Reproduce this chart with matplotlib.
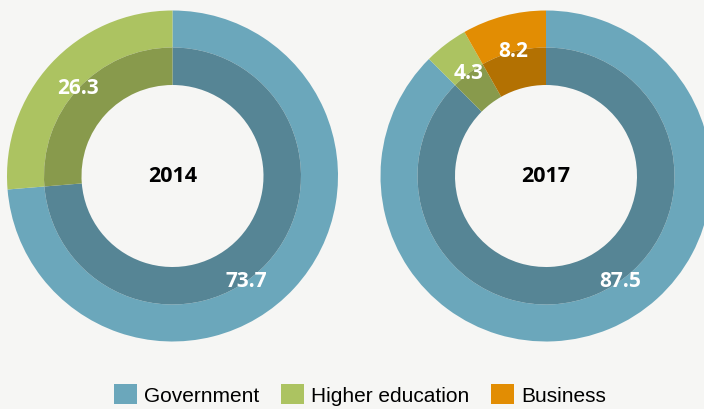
import matplotlib.pyplot as plt
from matplotlib.patches import Patch
import numpy as np

# data
years = ["2014", "2017"]
sectors = ["Government", "Higher education", "Business"]
values_2014 = [73.7, 26.3, 0.0]
values_2017 = [87.5, 4.3, 8.2]

outer_colors = ["#6ba7bb", "#acc361", "#e28d03"]
inner_colors = ["#568595", "#889a4c", "#b37102"]
bg = "#f6f6f4"

fig = plt.figure(figsize=(7.04, 4.09), dpi=100, facecolor=bg)
ax = fig.add_axes([0, 0, 1, 1])
ax.set_facecolor(bg)

W, H = 704, 409
centers = [(172.5, H - 176), (546, H - 176)]
r_out, r_mid, r_hole = 165.5, 128.5, 91

for year, vals, (cx, cy) in zip(years, [values_2014, values_2017], centers):
    keep = [i for i, v in enumerate(vals) if v > 0]
    v = [vals[i] for i in keep]
    ax.pie(v, colors=[outer_colors[i] for i in keep], radius=r_out, center=(cx, cy),
           startangle=90, counterclock=False,
           wedgeprops=dict(width=r_out - r_mid, linewidth=0))
    ax.pie(v, colors=[inner_colors[i] for i in keep], radius=r_mid, center=(cx, cy),
           startangle=90, counterclock=False,
           wedgeprops=dict(width=r_mid - r_hole, linewidth=0))
    ax.text(cx, cy, year, ha="center", va="center", fontsize=15.5,
            fontweight="bold", family="Open Sans", color="black")

    # value labels sit on the ring boundary
    total = sum(v)
    cum = 0
    for i, val in zip(keep, v):
        mid = (cum + val / 2) / total * 360
        cum += val
        if i == 0:
            mid = 145  # big government wedge: label pushed to lower right
        th = np.deg2rad(mid)
        lx = cx + r_mid * np.sin(th)
        ly = cy + r_mid * np.cos(th)
        ax.text(lx, ly, f"{val:.1f}", ha="center", va="center", fontsize=15,
                fontweight="bold", family="Open Sans", color="white")

ax.set_xlim(0, W)
ax.set_ylim(0, H)
ax.set_aspect("equal")
ax.axis("off")

handles = [Patch(facecolor=c, edgecolor="none") for c in outer_colors]
fig.legend(handles, sectors, loc="center", bbox_to_anchor=(360 / W, 14 / H),
           ncol=3, frameon=False, prop=dict(family="Liberation Sans", size=15),
           handlelength=1.1, handleheight=1.1, handletextpad=0.35,
           columnspacing=1.05, borderpad=0, borderaxespad=0)

fig.savefig("out.png", dpi=100, facecolor=bg)
